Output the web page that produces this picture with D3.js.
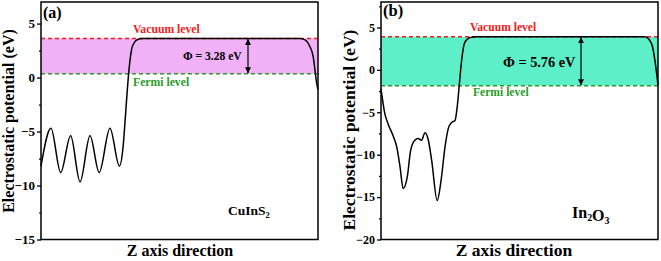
<!DOCTYPE html>
<html>
<head>
<meta charset="utf-8">
<script src="https://cdn.jsdelivr.net/npm/d3@7"></script>
<style>
  html, body { margin: 0; padding: 0; background: #fff; }
  svg { display: block; }
  text { font-family: "Liberation Serif", "Times New Roman", serif; font-weight: bold; }
</style>
</head>
<body>
<svg id="chart" width="661" height="261"></svg>
<script>
// [A] Datos ------------------------------------------------------------------
// Posicion a lo largo de Z (0-100, unidades arbitrarias) y potencial (eV)
const cuinsZ = [0, 3.6, 7.1, 10.7, 14.1, 17.7, 21.0, 24.9, 28.3, 29.6, 30.5, 31.2, 31.8, 32.7, 33.6, 34.7, 36.8, 93.5, 95.3, 97.1, 98.3, 98.9, 99.5, 100];
const cuinsV = [-8.2, -4.7, -8.8, -5.4, -9.65, -5.4, -8.8, -4.7, -8.2, -6.5, -3.5, -1.0, 0.8, 2.6, 3.2, 3.5, 3.63, 3.63, 3.5, 2.85, 1.9, 0.7, -0.5, -1.1];

const in2o3Z = [0, 1.4, 2.6, 4.4, 5.7, 6.9, 8.0, 9.5, 10.7, 12.2, 13.4, 14.6, 15.9, 17.1, 18.3, 20.3, 21.7, 23.1, 24.3, 25.5, 26.7, 27.5, 28.3, 29.1, 30.3, 32.1, 34.5, 95.3, 97.7, 98.9, 100];
const in2o3V = [-2.2, -5.2, -6.4, -7.8, -9.1, -11.5, -14.0, -12.6, -9.5, -8.3, -8.1, -8.3, -7.4, -8.3, -10.7, -15.4, -13.0, -9.1, -6.9, -6.2, -6.0, -4.4, -1.65, 1.1, 3.26, 3.8, 3.9, 3.9, 3.06, 1.1, -1.8];

// Niveles (eV)
const vacuumLevels = [3.63, 3.9];
const fermiLevels = [0.35, -1.86];
const workFunctions = ["Φ = 3.28 eV", "Φ = 5.76 eV"];

// Ejes
const yDomains = [[-15, 7], [-20, 8]];
const majorTicks = [[-15, -10, -5, 0, 5], [-20, -15, -10, -5, 0, 5]];
const minorTicks = [[-12.5, -7.5, -2.5, 2.5], [-17.5, -12.5, -7.5, -2.5, 2.5, 7.5]];
const panelLetters = ["(a)", "(b)"];

// [B] Configuracion de paneles --------------------------------------------
const svg = d3.select("#chart");

const panels = [
  {
    z: cuinsZ, v: cuinsV, left: 41, right: 318, fill: "#f0b1f6",
    tickFont: 13, labelFont: 16, yLabelX: 14, yLabelY: 121, xLabelX: 180,
    letterX: 43, letterY: 18, letterFont: 16,
    vacX: 133, vacY: 33, fermiX: 133, fermiY: 86, levelFont: 11.7,
    phiX: 183, phiY: 60, phiFont: 11.6, arrowX: 248,
    material: [["CuInS", 0], ["2", 1]], matX: 228, matY: 215, matFont: 13.5
  },
  {
    z: in2o3Z, v: in2o3V, left: 381, right: 658, fill: "#5defc7",
    tickFont: 12, labelFont: 17.5, yLabelX: 355, yLabelY: 130, xLabelX: 514,
    letterX: 383, letterY: 16, letterFont: 16.5,
    vacX: 470, vacY: 31, fermiX: 473, fermiY: 96, levelFont: 11.6,
    phiX: 503, phiY: 67, phiFont: 14.3, arrowX: 581,
    material: [["In", 0], ["2", 1], ["O", 0], ["3", 1]], matX: 572, matY: 218, matFont: 16
  }
];

const plotTop = 2;
const plotBottom = 239.5;

// Marcadores de flecha
const defs = svg.append("defs");
["start", "end"].forEach(k => {
  defs.append("marker")
    .attr("id", "arrow-" + k)
    .attr("viewBox", "0 0 10 10")
    .attr("refX", 10).attr("refY", 5)
    .attr("markerWidth", 6).attr("markerHeight", 6)
    .attr("markerUnits", "userSpaceOnUse")
    .attr("orient", k === "start" ? "auto-start-reverse" : "auto")
    .append("path")
    .attr("d", "M0,0 L10,5 L0,10 Z")
    .attr("fill", "#000");
});

// [C] Dibuja cada panel ----------------------------------------------------
panels.forEach((p, i) => {
  const x = d3.scaleLinear().domain([0, 100]).range([p.left, p.right]);
  const y = d3.scaleLinear().domain(yDomains[i]).range([plotBottom, plotTop]);
  const g = svg.append("g");

  // Banda entre nivel de Fermi y nivel de vacio
  g.append("rect")
    .attr("x", x(0)).attr("width", x(100) - x(0))
    .attr("y", y(vacuumLevels[i])).attr("height", y(fermiLevels[i]) - y(vacuumLevels[i]))
    .attr("fill", p.fill);

  // Lineas discontinuas
  g.append("line")
    .attr("x1", x(0)).attr("x2", x(100))
    .attr("y1", y(vacuumLevels[i])).attr("y2", y(vacuumLevels[i]))
    .attr("stroke", "#f21c1c").attr("stroke-width", 1.5).attr("stroke-dasharray", "4,3");
  g.append("line")
    .attr("x1", x(0)).attr("x2", x(100))
    .attr("y1", y(fermiLevels[i])).attr("y2", y(fermiLevels[i]))
    .attr("stroke", "#2a9a2a").attr("stroke-width", 1.5).attr("stroke-dasharray", "4,3");

  // Curva del potencial
  const pts = p.z.map((z, j) => [z, p.v[j]]);
  g.append("path")
    .datum(pts)
    .attr("d", d3.line().x(d => x(d[0])).y(d => y(d[1])).curve(d3.curveMonotoneX))
    .attr("fill", "none").attr("stroke", "#000").attr("stroke-width", 1.5);

  // Flecha de funcion de trabajo
  g.append("line")
    .attr("x1", p.arrowX).attr("x2", p.arrowX)
    .attr("y1", y(vacuumLevels[i]) + 0.5).attr("y2", y(fermiLevels[i]) - 0.5)
    .attr("stroke", "#000").attr("stroke-width", 1.2)
    .attr("marker-start", "url(#arrow-start)")
    .attr("marker-end", "url(#arrow-end)");

  // Marco
  g.append("rect")
    .attr("x", p.left).attr("y", plotTop)
    .attr("width", p.right - p.left).attr("height", plotBottom - plotTop)
    .attr("fill", "none").attr("stroke", "#000").attr("stroke-width", 1.5);

  // Eje Y: ticks mayores y menores
  const ax = g.append("g")
    .attr("transform", `translate(${p.left},0)`)
    .call(d3.axisLeft(y).tickValues(majorTicks[i]).tickSize(4).tickPadding(2).tickFormat(d3.format("d")));
  ax.select(".domain").remove();
  ax.selectAll("line").attr("stroke-width", 1.3);
  ax.selectAll("text").attr("font-size", p.tickFont).attr("fill", "#000")
    .style("font-family", "'Liberation Serif', serif").style("font-weight", "bold");
  const mx = g.append("g")
    .attr("transform", `translate(${p.left},0)`)
    .call(d3.axisLeft(y).tickValues(minorTicks[i]).tickSize(2).tickFormat(""));
  mx.select(".domain").remove();
  mx.selectAll("line").attr("stroke-width", 1.2);

  // Titulos de ejes
  g.append("text")
    .attr("transform", `translate(${p.yLabelX},${p.yLabelY}) rotate(-90)`)
    .attr("text-anchor", "middle").attr("font-size", p.labelFont)
    .text("Electrostatic potential (eV)");
  g.append("text")
    .attr("x", p.xLabelX).attr("y", 256)
    .attr("text-anchor", "middle").attr("font-size", p.labelFont)
    .text("Z axis direction");

  // Letra del panel
  g.append("text")
    .attr("x", p.letterX).attr("y", p.letterY)
    .attr("font-size", p.letterFont).text(panelLetters[i]);

  // Etiquetas de niveles
  g.append("text")
    .attr("x", p.vacX).attr("y", p.vacY)
    .attr("font-size", p.levelFont).attr("fill", "#f21c1c").text("Vacuum level");
  g.append("text")
    .attr("x", p.fermiX).attr("y", p.fermiY)
    .attr("font-size", p.levelFont).attr("fill", "#2a9a2a").text("Fermi level");
  g.append("text")
    .attr("x", p.phiX).attr("y", p.phiY)
    .attr("font-size", p.phiFont).text(workFunctions[i]);

  // Nombre del material con subindices
  const mat = g.append("text")
    .attr("x", p.matX).attr("y", p.matY)
    .attr("font-size", p.matFont);
  p.material.forEach(([s, sub]) => {
    mat.append("tspan")
      .attr("font-size", sub ? p.matFont * 0.62 : p.matFont)
      .attr("dy", sub ? 3 : 0)
      .text(s);
    if (sub) mat.append("tspan").attr("dy", -3).text("");
  });
});
</script>
</body>
</html>
